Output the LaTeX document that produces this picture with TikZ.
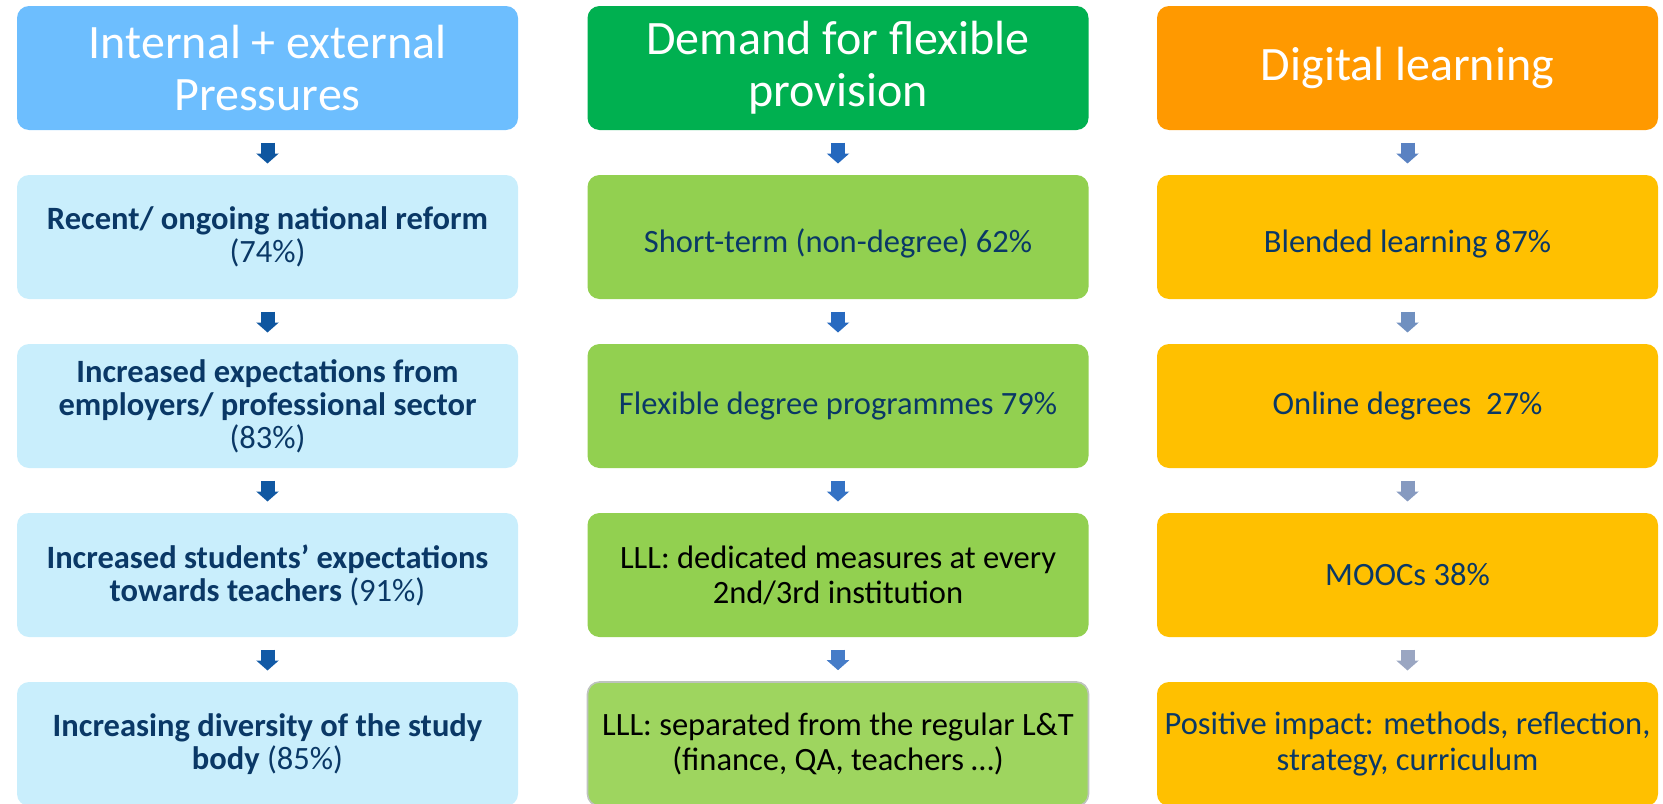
\documentclass[tikz,border=0pt]{standalone}
\usepackage{fontspec}
\setmainfont{Carlito}
\usetikzlibrary{arrows.meta}

\definecolor{txtblue}{RGB}{10,56,102}
\definecolor{pressHead}{RGB}{109,190,254}
\definecolor{pressBox}{RGB}{201,238,252}
\definecolor{demandHead}{RGB}{0,176,80}
\definecolor{demandBox}{RGB}{146,208,80}
\definecolor{demandBoxB}{RGB}{158,213,95}
\definecolor{digitalHead}{RGB}{255,153,0}
\definecolor{digitalBox}{RGB}{255,192,0}

\tikzset{every picture/.style={line width=0.75pt}}
\tikzset{
  box/.style={rounded corners=9pt, minimum width=375.75pt, minimum height=93pt, inner sep=0pt, align=center, font=\fontsize{24.4}{26.3}\selectfont, text=txtblue},
  pressbox/.style={box, fill=pressBox, font=\fontsize{24.4}{24.8}\selectfont},
  headbox/.style={box, font=\fontsize{36}{39}\selectfont, text=white},
  lowtext/.style={text height=28pt},
  blockarrow/.style={line width=10.5pt, -{Triangle[width=16.5pt,length=7.5pt]}, shorten <=9pt, shorten >=8.25pt},
}

\begin{document}
\begin{tikzpicture}[x=0.75pt,y=0.75pt,yscale=-1,xscale=1]
\useasboundingbox (0,0) rectangle (1663,803);

% Column: pressures
\node [headbox, fill=pressHead] (pHead) at (267.5,68) {Internal + external\\Pressures};
\node [pressbox] (p1) at (267.5,237) {\textbf{Recent/ ongoing national reform}\\(74\%)};
\node [pressbox] (p2) at (267.5,406) {\textbf{Increased expectations from}\\\textbf{employers/ professional sector}\\(83\%)};
\node [pressbox] (p3) at (267.5,575) {\textbf{Increased students’ expectations}\\\textbf{towards teachers} (91\%)};
\node [pressbox] (p4) at (267.5,744) {\textbf{Increasing diversity of the study}\\\textbf{body} (85\%)};

% Column: flexible provision
\node [headbox, fill=demandHead] (dHead) at (838,68) {Demand for flexible\\provision};
\node [box, lowtext, fill=demandBox] (d1) at (838,237) {Short-term (non-degree) 62\%};
\node [box, fill=demandBox] (d2) at (838,406) {Flexible degree programmes 79\%};
\node [box, fill=demandBox, text=black] (d3) at (838,575) {LLL: dedicated measures at every\\2nd/3rd institution};
\node [box, fill=demandBoxB, draw={rgb,255:red,190;green,196;blue,190}, line width=1.2pt, text=black] (d4) at (838,744) {LLL: separated from the regular L\&T\\(finance, QA, teachers …)};

% Column: digital learning
\node [headbox, fill=digitalHead] (gHead) at (1407.5,68) {Digital learning};
\node [box, lowtext, fill=digitalBox] (g1) at (1407.5,237) {Blended learning 87\%};
\node [box, fill=digitalBox] (g2) at (1407.5,406) {Online degrees\ \ 27\%};
\node [box, fill=digitalBox] (g3) at (1407.5,575) {MOOCs 38\%};
\node [box, fill=digitalBox] (g4) at (1407.5,744) {Positive impact: methods, reflection,\\strategy, curriculum};

% Arrows
\draw [blockarrow, color={rgb,255:red,14;green,86;blue,160}] (pHead) -- (p1);
\draw [blockarrow, color={rgb,255:red,14;green,86;blue,160}] (p1) -- (p2);
\draw [blockarrow, color={rgb,255:red,16;green,88;blue,162}] (p2) -- (p3);
\draw [blockarrow, color={rgb,255:red,18;green,90;blue,166}] (p3) -- (p4);

\draw [blockarrow, color={rgb,255:red,36;green,104;blue,190}] (dHead) -- (d1);
\draw [blockarrow, color={rgb,255:red,40;green,106;blue,192}] (d1) -- (d2);
\draw [blockarrow, color={rgb,255:red,52;green,114;blue,196}] (d2) -- (d3);
\draw [blockarrow, color={rgb,255:red,70;green,124;blue,200}] (d3) -- (d4);

\draw [blockarrow, color={rgb,255:red,90;green,130;blue,194}] (gHead) -- (g1);
\draw [blockarrow, color={rgb,255:red,112;green,144;blue,192}] (g1) -- (g2);
\draw [blockarrow, color={rgb,255:red,134;green,154;blue,192}] (g2) -- (g3);
\draw [blockarrow, color={rgb,255:red,154;green,166;blue,194}] (g3) -- (g4);

\end{tikzpicture}
\end{document}
